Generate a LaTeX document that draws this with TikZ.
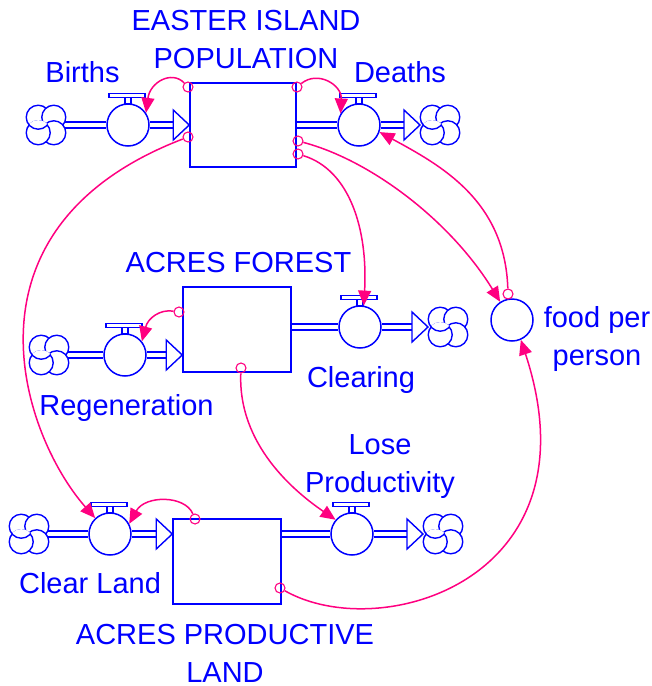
\documentclass[tikz,border=0pt]{standalone}
\usepackage{fontspec}
\setmainfont{Liberation Sans}
\usetikzlibrary{arrows.meta,calc}
\definecolor{sdblue}{RGB}{0,0,255}
\definecolor{sdpink}{RGB}{255,0,128}

\begin{document}
\begin{tikzpicture}[x=1pt, y=-1pt,
  every node/.style={font=\fontsize{29}{38}\selectfont, text=sdblue},
  stock/.style={draw=sdblue, line width=1.5pt, minimum width=108pt, minimum height=85pt, inner sep=0pt},
  valve/.style={circle, draw=sdblue, line width=1.5pt, minimum size=42pt, inner sep=0pt},
  pipe/.style={draw=sdblue, double=white, line width=1.4pt, double distance=4.6pt},
  stem/.style={draw=sdblue, line width=1.4pt, fill=white},
  tap/.style={circle, draw=sdpink, line width=1.1pt, minimum size=10pt, inner sep=0pt},
  link/.style={draw=sdpink, line width=1.5pt, -{Triangle[length=15pt, width=13pt]}},
  tag/.style={align=center, inner sep=0pt, anchor=base},
  sink/.pic={
    \foreach \a in {225,315,45,135}
      \filldraw[stem] (\a:11) circle (12pt);
    \begin{scope}
      \clip (135:11) circle (12.7pt);
      \filldraw[stem] (225:11) circle (12pt);
    \end{scope}},
  head/.pic={\filldraw[stem] (0,0) -- (-16,-15) -- (-16,15) -- cycle;},
]
\useasboundingbox (0,0) rectangle (652,686);

% stocks
\node[stock, minimum width=106pt, minimum height=84pt] (pop) at (243,125) {};
\node[stock] (forest) at (237,329.5) {};
\node[stock] (land) at (227,561.5) {};

% valves and the auxiliary
\node[valve] (births) at (128,125) {};
\node[valve] (deaths) at (359,125) {};
\node[valve] (regen) at (125,355) {};
\node[valve] (clearing) at (360,327) {};
\node[valve] (clearland) at (110,534) {};
\node[valve] (lose) at (352,534) {};
\node[valve] (food) at (512,320) {};

% sources and sinks
\coordinate (srcB) at (46,125);
\coordinate (sinkD) at (440,125);
\coordinate (srcR) at (49,355);
\coordinate (sinkC) at (448,327);
\coordinate (srcL) at (29,534);
\coordinate (sinkP) at (443,534);

% pipes
\draw[pipe, shorten >=0.7pt] (srcB) -- (births);
\draw[pipe, shorten <=0.7pt, shorten >=15pt] (births) -- (births -| pop.west);
\draw[pipe, shorten <=0.7pt, shorten >=0.7pt] (pop.east |- deaths) -- (deaths);
\draw[pipe, shorten <=0.7pt, shorten >=35pt] (deaths) -- (sinkD);
\draw[pipe, shorten >=0.7pt] (srcR) -- (regen);
\draw[pipe, shorten <=0.7pt, shorten >=15pt] (regen) -- (regen -| forest.west);
\draw[pipe, shorten <=0.7pt, shorten >=0.7pt] (forest.east |- clearing) -- (clearing);
\draw[pipe, shorten <=0.7pt, shorten >=35pt] (clearing) -- (sinkC);
\draw[pipe, shorten >=0.7pt] (srcL) -- (clearland);
\draw[pipe, shorten <=0.7pt, shorten >=15pt] (clearland) -- (clearland -| land.west);
\draw[pipe, shorten <=0.7pt, shorten >=0.7pt] (land.east |- lose) -- (lose);
\draw[pipe, shorten <=0.7pt, shorten >=35pt] (lose) -- (sinkP);

\foreach \c in {srcB,sinkD,srcR,sinkC,srcL,sinkP}
  \pic at (\c) {sink};
\pic at (births -| pop.west) {head};
\pic at (regen -| forest.west) {head};
\pic at (clearland -| land.west) {head};
\pic at ($(sinkD)+(-20,0)$) {head};
\pic at ($(sinkC)+(-20,0)$) {head};
\pic at ($(sinkP)+(-20,0)$) {head};

% valve handles
\foreach \v in {births,deaths,regen,clearing,clearland,lose} {
  \draw[stem] ($(\v.north)+(-3,0)$) rectangle ++(6,-6);
  \draw[stem] ($(\v.north)+(-19,-6)$) rectangle ++(36,-4);
}

% connectors
\node[tap] (tB) at (188,87) {};
\node[tap] (tD) at (297,87) {};
\node[tap] (tL) at (188,137) {};
\node[tap] (tF) at (298,141) {};
\node[tap] (tC) at (298,154) {};
\node[tap] (tFood) at (508,294) {};
\node[tap] (tR) at (179,312) {};
\node[tap] (tP) at (241,368) {};
\node[tap] (tCL) at (195,519) {};
\node[tap] (tLand) at (280,588) {};

\draw[link] (tB) .. controls (172,70) and (150,82) .. (births.34);
\draw[link] (tD) .. controls (318,70) and (342,85) .. (deaths.148);
\draw[link] (tL) .. controls (-49,228) and (22,435) .. (clearland.133);
\draw[link] (tF) .. controls (370,160) and (450,220) .. (food.123);
\draw[link] (tC) .. controls (350,170) and (368,230) .. (clearing.80);
\draw[link] (tFood) .. controls (505,200) and (440,165) .. (deaths.-19);
\draw[link] (tR) .. controls (160,309) and (148,318) .. (regen.39);
\draw[link] (tP) .. controls (238,445) and (295,492) .. (lose.139);
\draw[link] (tCL) .. controls (185,495) and (145,495) .. (clearland.28);
\draw[link] (tLand) .. controls (380,645) and (600,580) .. (food.-66);

% labels
\node[tag] (lpop) at (246,68) {EASTER ISLAND\\POPULATION};
\node[tag] (lbirths) at (82.5,82) {Births};
\node[tag] (ldeaths) at (400,82) {Deaths};
\node[tag] (lforest) at (238.5,272) {ACRES FOREST};
\node[tag] (lregen) at (126.5,415) {Regeneration};
\node[tag] (lclearing) at (361,387) {Clearing};
\node[tag] (llose) at (380,492) {Lose\\Productivity};
\node[tag] (lfood) at (597,365) {food per\\person};
\node[tag] (lclearland) at (90,593) {Clear Land};
\node[tag] (lland) at (225,682) {ACRES PRODUCTIVE\\LAND};
\end{tikzpicture}
\end{document}
